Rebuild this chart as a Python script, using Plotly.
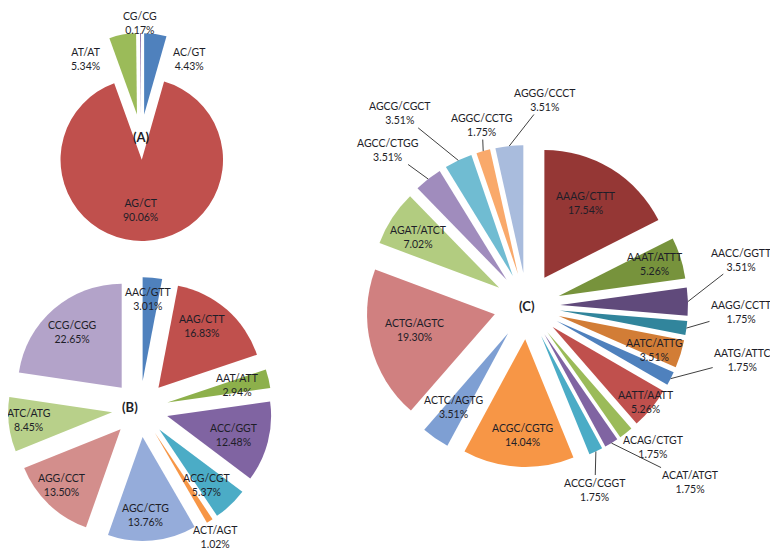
import math
import plotly.graph_objects as go

# The page body has an 8px margin, so the figure is drawn 8px right/down.
OFF = 8
FW, FH = 778 - OFF, 550 - OFF

# ---------------- data ----------------
a_labels = ["AC/GT", "AG/CT", "AT/AT", "CG/CG"]
a_values = [4.43, 90.06, 5.34, 0.17]

b_labels = ["AAC/GTT", "AAG/CTT", "AAT/ATT", "ACC/GGT", "ACG/CGT",
            "ACT/AGT", "AGC/CTG", "AGG/CCT", "ATC/ATG", "CCG/CGG"]
b_values = [3.01, 16.83, 2.94, 12.48, 5.37, 1.02, 13.76, 13.50, 8.45, 22.65]

c_labels = ["AAAG/CTTT", "AAAT/ATTT", "AACC/GGTT", "AAGG/CCTT", "AATC/ATTG",
            "AATG/ATTC", "AATT/AATT", "ACAG/CTGT", "ACAT/ATGT", "ACCG/CGGT",
            "ACGC/CGTG", "ACTC/AGTG", "ACTG/AGTC", "AGAT/ATCT", "AGCC/CTGG",
            "AGCG/CGCT", "AGGC/CCTG", "AGGG/CCCT"]
c_values = [17.54, 5.26, 3.51, 1.75, 3.51, 1.75, 5.26, 1.75, 1.75, 1.75,
            14.04, 3.51, 19.30, 7.02, 3.51, 3.51, 1.75, 3.51]

panel_names = ["(A)", "(B)", "(C)"]

# ---------------- styles / layout ----------------
a_colors = ["#4F81BD", "#C0504D", "#9BBB59", "#8064A2"]
b_colors = ["#4F81BD", "#C0504D", "#8DB04B", "#8064A2", "#4BACC6",
            "#F79646", "#95ACDA", "#D38E8C", "#B8D08A", "#B3A3C9"]
c_colors = ["#953735", "#77933C", "#604A7B", "#31859C", "#D27D36",
            "#4F81BD", "#C0504D", "#9BBB59", "#8064A2", "#4BACC6",
            "#F79646", "#7E9FD3", "#D08080", "#B2CC80", "#A08CBD",
            "#70BCD2", "#F9A96B", "#A9BCDD"]

# label offsets (px) from the outer edge of each slice's bisector
a_dx = [34, -4, -37, 0]
a_dy = [25, -31, 24, -10]
a_leader = [False, False, False, False]

b_dx = [-4, -24, -31, -34, -24, 6, -7, 13, 20, 19]
b_dy = [21, 16, 6, -7, -20, 16, -25, -19, -4, 23]
b_leader = [False] * 10

c_dx = [-25, -26, 54, 55, -26, 72, -5, 28, 79, -1, 4, 18, 44, 26, -40, -58, -1, 36]
c_dy = [34, 6, -42, -16, -4, -19, -6, 14, 39, 38, -32, -31, -16, 19, -29, -47, -26, -46]
c_leader = [False, False, True, True, False, True, False, False, True, True,
            False, False, False, False, True, True, True, True]

# pie geometry in screen pixels: centre x, centre y, half box size, pull
boxes = [(141, 137, 104, 0.28), (140, 409, 132, 0.27), (527, 306, 161, 0.26)]
name_shift = [(0, 0), (-10, -2), (0, 0)]

FONT = "Lato, Open Sans, sans-serif"
TXT = "#1E1E28"
FS = 10.5

fig = go.Figure()
annotations = []
for (labels, values, colors, dxs, dys, leads), (cx, cy, half, pull), name, ns in zip(
        [(a_labels, a_values, a_colors, a_dx, a_dy, a_leader),
         (b_labels, b_values, b_colors, b_dx, b_dy, b_leader),
         (c_labels, c_values, c_colors, c_dx, c_dy, c_leader)],
        boxes, panel_names, name_shift):
    fx, fy = cx - OFF, cy - OFF  # figure pixel coords
    fig.add_trace(go.Pie(
        labels=labels, values=values, sort=False, direction="clockwise",
        rotation=0, pull=[pull] * len(values),
        marker=dict(colors=colors, line=dict(width=0)),
        textinfo="none", showlegend=False, hoverinfo="label+value",
        domain=dict(x=[max(0, (fx - half) / FW), min(1, (fx + half) / FW)],
                    y=[max(0, 1 - (fy + half) / FH), min(1, 1 - (fy - half) / FH)]),
        automargin=False,
    ))
    # slice label annotations positioned from the pie's own geometry
    r = half / (1 + pull)
    dist = r * (1 + pull)
    total = sum(values)
    cum = 0.0
    for lab, v, dx, dy, lead in zip(labels, values, dxs, dys, leads):
        mid = math.radians((cum + v / 2) / total * 360)
        cum += v
        hx = fx + dist * math.sin(mid)
        hy = fy - dist * math.cos(mid)
        txt = f"{lab}<br>{v:.2f}%"
        base = dict(x=hx / FW, y=1 - hy / FH, xref="paper", yref="paper",
                    xanchor="center", yanchor="middle",
                    text=txt, font=dict(family=FONT, size=FS, color=TXT))
        if lead:
            base.update(showarrow=True, ax=dx, ay=dy, arrowhead=0,
                        arrowwidth=1, arrowcolor="#404040", standoff=0)
        else:
            base.update(showarrow=False, xshift=dx, yshift=-dy)
        annotations.append(base)
    annotations.append(dict(x=fx / FW, y=1 - fy / FH, xref="paper", yref="paper",
                            xanchor="center", yanchor="middle",
                            text="<b>" + name + "</b>", showarrow=False,
                            xshift=ns[0], yshift=-ns[1],
                            font=dict(family=FONT, size=13, color=TXT)))

fig.update_layout(width=FW, height=FH,
                  margin=dict(l=0, r=0, t=0, b=0, pad=0, autoexpand=False),
                  annotations=annotations,
                  paper_bgcolor="white", plot_bgcolor="white")
fig.write_html("out.html")
